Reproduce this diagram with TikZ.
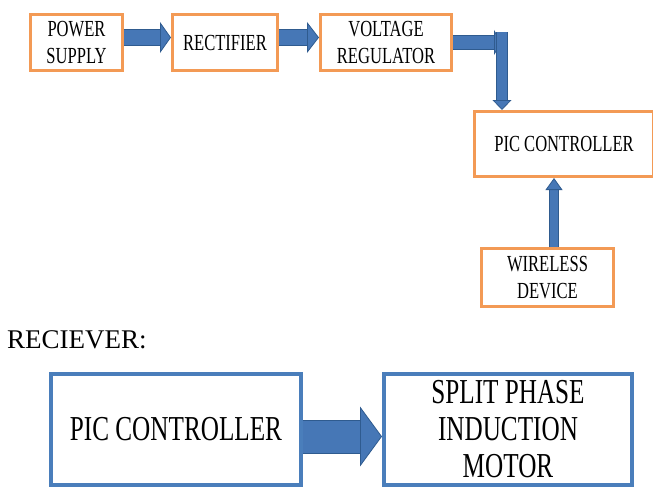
\documentclass[tikz,border=0pt]{standalone}
\usepackage{fontspec}
\setmainfont{Liberation Serif}
\newfontfamily\boxfont{Liberation Serif}[FakeStretch=0.72]
\usetikzlibrary{positioning,arrows.meta}
\definecolor{boxorange}{HTML}{F39A55}
\definecolor{boxblue}{HTML}{4A7EBB}
\definecolor{arrowfill}{HTML}{4677B6}
\definecolor{arrowline}{HTML}{2F5B8F}

\begin{document}
\begin{tikzpicture}[x=1pt, y=-1pt, every node/.style={align=center, inner sep=0pt},
  txbox/.style={draw=boxorange, line width=3pt, font=\boxfont\fontsize{23}{27}\selectfont, minimum height=56pt},
  rxbox/.style={draw=boxblue, line width=4pt, font=\boxfont\fontsize{35}{37}\selectfont, minimum height=111pt},
  blockarr/.style n args={4}{draw=arrowfill, line width=#1,
    -{Triangle[width=#3, length=#4, line width'=0.8pt, fill=arrowfill, color=arrowline]},
    preaction={draw=arrowline, line width=#2, shorten >=#4, arrows=-}}]
  \useasboundingbox (0,0) rectangle (653,490);
  % transmitter
  \node[txbox, minimum width=92pt] (ps) at (76.5,42.5) {POWER\\SUPPLY};
  \node[txbox, minimum width=105pt, right=47pt of ps] (rect) {RECTIFIER};
  \node[txbox, minimum width=131pt, right=40pt of rect] (vr) {VOLTAGE\\REGULATOR};
  \node[txbox, minimum width=179pt, minimum height=65pt] (pic) at (564,144) {PIC CONTROLLER};
  \node[txbox, minimum width=132pt, minimum height=58pt] (wd) at (547.5,277.5) {WIRELESS\\DEVICE};
  \coordinate (turn) at (502,32);
  \draw[blockarr={15pt}{17pt}{31pt}{11pt}] ([yshift=5pt]ps.east) -- ([yshift=5pt]rect.west);
  \draw[blockarr={15pt}{17pt}{31pt}{12pt}] ([yshift=5pt]rect.east) -- ([yshift=5pt]vr.west);
  \draw[blockarr={13pt}{15pt}{25pt}{8pt}] (vr.east) -- (vr.east -| turn);
  \draw[blockarr={10pt}{12pt}{19pt}{10pt}] (turn) -- (turn |- pic.north);
  \draw[blockarr={8pt}{10pt}{17pt}{12pt}] ([xshift=6.5pt]wd.north) -- ([xshift=6.5pt]wd.north |- pic.south);
  % receiver
  \node[anchor=base west, font=\fontsize{27}{30}\selectfont] (rxlabel) at (7,348) {RECIEVER:};
  \node[rxbox, minimum width=250pt] (bpic) at (176,429.5) {PIC CONTROLLER};
  \node[rxbox, minimum width=248pt, right=79pt of bpic] (motor) {SPLIT PHASE\\INDUCTION\\MOTOR};
  \draw[blockarr={32pt}{34pt}{60pt}{22pt}] ([yshift=-7pt]bpic.east) -- ([yshift=-7pt]motor.west);
\end{tikzpicture}
\end{document}
